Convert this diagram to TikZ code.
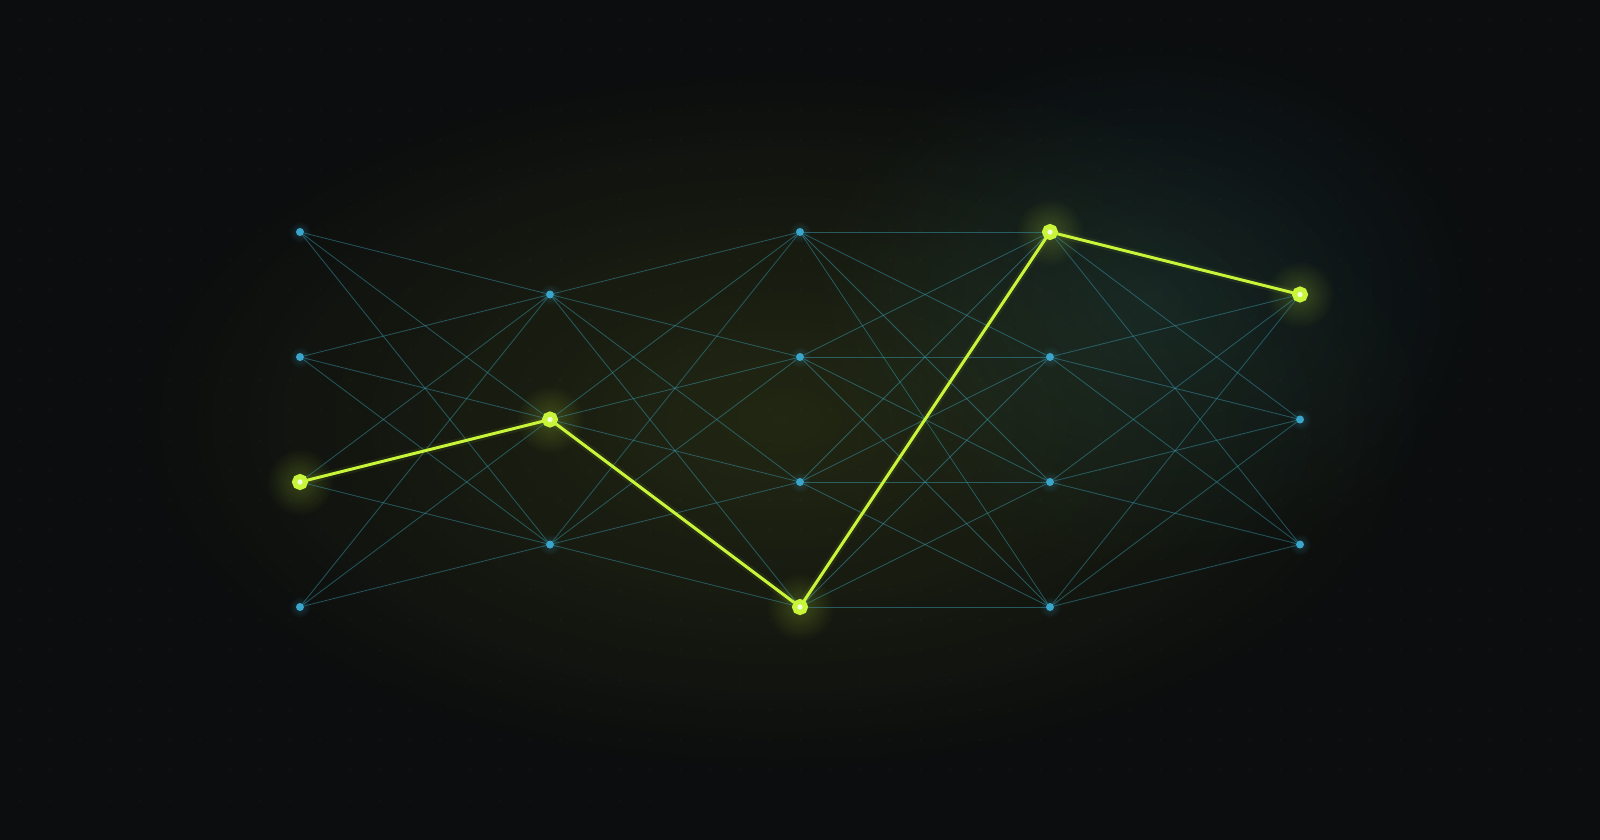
\documentclass[tikz,border=0pt]{standalone}
\usetikzlibrary{fadings}

\definecolor{bgdark}{HTML}{0B0D0E}
\definecolor{glowgreen}{HTML}{A8C030}
\definecolor{glowteal}{HTML}{3A9AA0}
\definecolor{unitblue}{HTML}{3BA6CC}
\definecolor{wireteal}{HTML}{3A9CB0}
\definecolor{lime}{HTML}{C8F53A}
\definecolor{limecore}{HTML}{F2FFD6}

\tikzfading[name=softglow, inner color=transparent!0, outer color=transparent!100]

\pgfdeclarelayer{bg}
\pgfsetlayers{bg,main}

\tikzset{
    unit/.style={circle, fill=unitblue, inner sep=0pt, minimum size=8pt},
    hot/.style={circle, draw=lime, line width=5pt, fill=limecore, inner sep=0pt, minimum size=11pt},
    wire/.style={draw=wireteal, line width=0.8pt, draw opacity=0.5},
    trail/.style={draw=lime, line width=3pt, line cap=round, line join=round},
    halo/.style={fill=#1, path fading=softglow},
}

\begin{document}
\begin{tikzpicture}[x=1pt, y=-1pt]
        \useasboundingbox (0,0) rectangle (1600,840);

        % layer 1
        \node[unit] (a1) at (300, 232) {};
        \node[unit] (a2) at (300, 357) {};
        \node[hot]  (a3) at (300, 482) {};
        \node[unit] (a4) at (300, 607) {};
        % layer 2
        \node[unit] (b1) at (550, 294.5) {};
        \node[hot]  (b2) at (550, 419.5) {};
        \node[unit] (b3) at (550, 544.5) {};
        % layer 3
        \node[unit] (c1) at (800, 232) {};
        \node[unit] (c2) at (800, 357) {};
        \node[unit] (c3) at (800, 482) {};
        \node[hot]  (c4) at (800, 607) {};
        % layer 4
        \node[hot]  (d1) at (1050, 232) {};
        \node[unit] (d2) at (1050, 357) {};
        \node[unit] (d3) at (1050, 482) {};
        \node[unit] (d4) at (1050, 607) {};
        % layer 5
        \node[hot]  (e1) at (1300, 294.5) {};
        \node[unit] (e2) at (1300, 419.5) {};
        \node[unit] (e3) at (1300, 544.5) {};

        \begin{pgfonlayer}{bg}
            \fill[bgdark] (0,0) rectangle (1600,840);
            \fill[halo=glowgreen, fill opacity=0.15] (780,420) ellipse (660 and 360);
            \fill[halo=glowteal, fill opacity=0.14] (1150,300) ellipse (340 and 270);
            \foreach \x in {20,50,...,1580}
                \foreach \y in {20,50,...,820}
                    \fill[white, fill opacity=0.04] (\x,\y) circle (1);
            \foreach \n in {a1,a2,a4,b1,b3,c1,c2,c3,d2,d3,d4,e2,e3}
                \fill[halo=unitblue, fill opacity=0.25] (\n) circle (11);
            \foreach \n in {a3,b2,c4,d1,e1}
                \fill[halo=lime, fill opacity=0.22] (\n) circle (34);
        \end{pgfonlayer}

        % all connections
        \foreach \i in {1,...,4}
            \foreach \j in {1,...,3}
                \draw[wire] (a\i) -- (b\j);
        \foreach \i in {1,...,3}
            \foreach \j in {1,...,4}
                \draw[wire] (b\i) -- (c\j);
        \foreach \i in {1,...,4}
            \foreach \j in {1,...,4}
                \draw[wire] (c\i) -- (d\j);
        \foreach \i in {1,...,4}
            \foreach \j in {1,...,3}
                \draw[wire] (d\i) -- (e\j);

        % highlighted route
        \draw[trail, line width=8pt, draw opacity=0.07] (a3) -- (b2) -- (c4) -- (d1) -- (e1);
        \draw[trail] (a3) -- (b2) -- (c4) -- (d1) -- (e1);
    \end{tikzpicture}
\end{document}
